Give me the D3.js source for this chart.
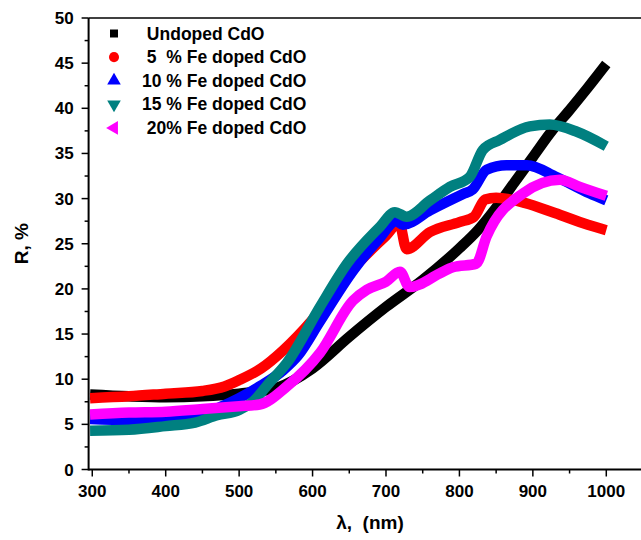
<!DOCTYPE html>
<html>
<head>
<meta charset="utf-8">
<script src="https://cdn.jsdelivr.net/npm/d3@7"></script>
<style>
  body { margin: 0; background: #fff; }
  text { font-family: "Liberation Sans", Arial, sans-serif; font-weight: bold; fill: #000; }
  .legend text { white-space: pre; }
</style>
</head>
<body>
<svg id="chart"></svg>
<script>
// Reflectance data
const seriesNames = [" Undoped CdO", " 5  % Fe doped CdO", "10 % Fe doped CdO", "15 % Fe doped CdO", " 20% Fe doped CdO"];
const seriesColors = ["#000000", "#ff0000", "#0000ff", "#008080", "#ff00ff"];
const seriesSymbols = ["square", "circle", "triangleUp", "triangleDown", "triangleLeft"];

const undopedX = [297, 350, 400, 450, 500, 550, 600, 650, 700, 750, 800, 825, 850, 875, 900, 925, 950, 975, 1000];
const undopedR = [8.3, 8.1, 8.0, 8.1, 8.4, 9.0, 11.2, 14.7, 18.0, 21.0, 24.5, 26.5, 29.0, 31.8, 34.6, 37.4, 39.8, 42.3, 44.9];

const fe5X = [297, 350, 400, 450, 480, 500, 530, 560, 580, 600, 650, 700, 718, 728, 760, 800, 820, 835, 850, 890, 930, 975, 1000];
const fe5R = [7.9, 8.1, 8.4, 8.7, 9.2, 9.9, 11.2, 13.2, 14.8, 16.6, 21.8, 25.9, 27.3, 24.4, 26.3, 27.4, 28.0, 29.9, 30.1, 29.5, 28.4, 27.1, 26.5];

const fe10X = [297, 350, 400, 450, 500, 530, 560, 580, 610, 655, 690, 714, 723, 760, 805, 818, 837, 864, 892, 932, 977, 1000];
const fe10R = [5.6, 5.5, 5.6, 6.2, 7.9, 9.3, 11.0, 12.6, 16.4, 22.0, 25.5, 27.5, 27.1, 28.7, 30.5, 31.0, 33.2, 33.7, 33.7, 32.4, 30.6, 29.8];

const fe15X = [297, 350, 400, 440, 470, 500, 520, 540, 565, 610, 647, 692, 712, 728, 760, 787, 814, 832, 855, 896, 923, 960, 1000];
const fe15R = [4.3, 4.4, 4.8, 5.2, 6.0, 6.6, 7.6, 9.5, 11.8, 18.0, 22.8, 26.9, 28.5, 28.0, 29.8, 31.3, 32.4, 35.4, 36.5, 38.0, 38.2, 37.4, 35.8];

const fe20X = [297, 350, 400, 450, 500, 528, 565, 610, 655, 674, 700, 719, 732, 773, 791, 823, 837, 887, 937, 964, 1000];
const fe20R = [6.1, 6.3, 6.4, 6.7, 7.0, 7.2, 9.2, 12.9, 18.7, 19.9, 20.8, 21.9, 20.2, 21.7, 22.4, 22.8, 25.8, 30.6, 32.1, 31.3, 30.3];

const xTicks = [300, 400, 500, 600, 700, 800, 900, 1000];
const yTicks = [0, 5, 10, 15, 20, 25, 30, 35, 40, 45, 50];

const series = [
    { x: undopedX, y: undopedR },
    { x: fe5X, y: fe5R },
    { x: fe10X, y: fe10R },
    { x: fe15X, y: fe15R },
    { x: fe20X, y: fe20R }
].map((s, i) => ({
    name: seriesNames[i],
    color: seriesColors[i],
    symbol: seriesSymbols[i],
    points: s.x.map((v, j) => [v, s.y[j]])
}));

const W = 641, H = 540;
const svg = d3.select("#chart").attr("width", W).attr("height", H);

const x = d3.scaleLinear().domain([295, 1050]).range([88.6, 643]);
const y = d3.scaleLinear().domain([0, 50]).range([469.5, 18]);

// Curves (legend order, last on top)
const line = d3.line().curve(d3.curveMonotoneX).x(d => x(d[0])).y(d => y(d[1]));
svg.append("g")
    .selectAll("path")
    .data(series)
    .join("path")
    .attr("d", d => line(d.points))
    .attr("fill", "none")
    .attr("stroke", d => d.color)
    .attr("stroke-width", 10.5)
    .attr("stroke-linejoin", "round");

// Axes
const xAxis = svg.append("g").attr("transform", `translate(0,${y(0)})`);
xAxis.append("line").attr("x1", x(295)).attr("x2", W + 5).attr("stroke", "#000").attr("stroke-width", 2);
xAxis.selectAll(".minor")
    .data(d3.range(350, 1050, 100))
    .join("line")
    .attr("x1", d => x(d)).attr("x2", d => x(d))
    .attr("y1", 0).attr("y2", 4)
    .attr("stroke", "#000").attr("stroke-width", 1.5);
xAxis.selectAll(".major")
    .data(xTicks)
    .join("line")
    .attr("x1", d => x(d)).attr("x2", d => x(d))
    .attr("y1", 0).attr("y2", 7)
    .attr("stroke", "#000").attr("stroke-width", 1.5);
xAxis.selectAll("text")
    .data(xTicks)
    .join("text")
    .attr("x", d => x(d))
    .attr("y", 27)
    .attr("text-anchor", "middle")
    .style("font-size", "17px")
    .text(d => d);

const yAxis = svg.append("g").attr("transform", `translate(${x(295)},0)`);
yAxis.append("line").attr("y1", y(0) + 1).attr("y2", y(50)).attr("stroke", "#000").attr("stroke-width", 2);
yAxis.selectAll(".minor")
    .data(d3.range(2.5, 50, 5))
    .join("line")
    .attr("y1", d => y(d)).attr("y2", d => y(d))
    .attr("x1", 0).attr("x2", -4)
    .attr("stroke", "#000").attr("stroke-width", 1.5);
yAxis.selectAll(".major")
    .data(yTicks)
    .join("line")
    .attr("y1", d => y(d)).attr("y2", d => y(d))
    .attr("x1", 0).attr("x2", -7)
    .attr("stroke", "#000").attr("stroke-width", 1.5);
yAxis.selectAll("text")
    .data(yTicks)
    .join("text")
    .attr("x", -15)
    .attr("y", d => y(d) + 6)
    .attr("text-anchor", "end")
    .style("font-size", "17px")
    .text(d => d);

// top frame line
svg.append("line")
    .attr("x1", x(295)).attr("x2", W + 5)
    .attr("y1", y(50)).attr("y2", y(50))
    .attr("stroke", "#000").attr("stroke-width", 1.5);

// Axis titles
svg.append("text")
    .attr("transform", `translate(28,${(y(0) + y(50)) / 2}) rotate(-90)`)
    .attr("text-anchor", "middle")
    .style("font-size", "19px")
    .text("R, %");

svg.append("text")
    .attr("x", 370)
    .attr("y", 529)
    .attr("text-anchor", "middle")
    .style("font-size", "19px")
    .style("white-space", "pre")
    .text("λ,  (nm)");

// Legend
const symbolTypes = {
    square: d3.symbolSquare,
    circle: d3.symbolCircle,
    triangleUp: d3.symbolTriangle,
    triangleDown: d3.symbolTriangle,
    triangleLeft: d3.symbolTriangle
};
const symbolRotate = { square: 0, circle: 0, triangleUp: 0, triangleDown: 180, triangleLeft: -90 };

const legend = svg.append("g").attr("class", "legend");
const rows = legend.selectAll("g")
    .data(series)
    .join("g")
    .attr("transform", (d, i) => `translate(114,${33.5 + i * 23.6})`);

rows.append("path")
    .attr("d", d => d3.symbol().type(symbolTypes[d.symbol]).size(d.symbol === "square" ? 64 : 80)())
    .attr("transform", d => `rotate(${symbolRotate[d.symbol]})`)
    .attr("fill", d => d.color);

rows.append("text")
    .attr("x", 28)
    .attr("y", 6)
    .style("font-size", "17.5px")
    .text(d => d.name);
</script>
</body>
</html>
